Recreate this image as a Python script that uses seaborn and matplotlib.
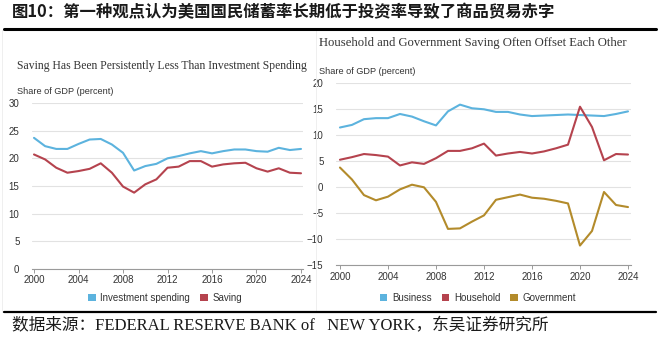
import numpy as np
import pandas as pd
import matplotlib
matplotlib.use("Agg")
import matplotlib.pyplot as plt
from matplotlib.patches import Patch
from matplotlib.lines import Line2D
import seaborn as sns

years = list(range(2000, 2025))

investment = [23.7, 22.2, 21.7, 21.7, 22.6, 23.4, 23.5, 22.5, 21.0, 17.8,
              18.6, 19.0, 20.0, 20.4, 20.9, 21.3, 20.9, 21.3, 21.6, 21.6,
              21.3, 21.2, 21.9, 21.5, 21.7]
saving = [20.7, 19.8, 18.3, 17.4, 17.7, 18.1, 19.1, 17.4, 14.9, 13.8,
          15.3, 16.2, 18.3, 18.5, 19.5, 19.5, 18.5, 18.9, 19.1, 19.2,
          18.2, 17.6, 18.2, 17.4, 17.3]

business = [11.5, 12.0, 13.1, 13.3, 13.3, 14.1, 13.6, 12.7, 11.9, 14.6,
            15.9, 15.2, 15.0, 14.5, 14.5, 14.0, 13.7, 13.8, 13.9, 14.0,
            13.9, 13.8, 13.7, 14.1, 14.6]
household = [5.3, 5.8, 6.4, 6.2, 5.9, 4.2, 4.8, 4.5, 5.6, 7.0,
             7.0, 7.5, 8.4, 6.1, 6.5, 6.8, 6.5, 6.9, 7.5, 8.2,
             15.5, 11.6, 5.2, 6.4, 6.3]
government = [3.8, 1.5, -1.5, -2.5, -1.8, -0.4, 0.5, 0.0, -2.8, -8.0,
              -7.9, -6.6, -5.4, -2.4, -1.9, -1.4, -2.0, -2.2, -2.6, -3.1,
              -11.2, -8.4, -0.9, -3.4, -3.8]

x_ticks = [2000, 2004, 2008, 2012, 2016, 2020, 2024]
left_yticks = [0, 5, 10, 15, 20, 25, 30]
right_yticks = [-15, -10, -5, 0, 5, 10, 15, 20]

left_names = ["Investment spending", "Saving"]
right_names = ["Business", "Household", "Government"]

BLUE = "#5cb3de"
RED = "#b5434e"
GOLD = "#b38b2b"

sns.set_theme(style="white")
plt.rcParams['font.family'] = ['Liberation Sans', 'DejaVu Sans']

W, H = 660, 337
fig = plt.figure(figsize=(W / 100, H / 100), dpi=100)


def ax_px(x0, y_top, x1, y_bot):
    return fig.add_axes([x0 / W, 1 - y_bot / H, (x1 - x0) / W, (y_bot - y_top) / H])


def style_axis(ax, yticks, ylim, xlim):
    ax.set_xlim(*xlim)
    ax.set_ylim(*ylim)
    ax.set_yticks(yticks)
    ax.set_xticks(x_ticks)
    ax.set_xticklabels([str(t) for t in x_ticks])
    ax.yaxis.grid(True, color="#e2e2e2", linewidth=0.8)
    ax.xaxis.grid(False)
    for s in ["top", "right", "left"]:
        ax.spines[s].set_visible(False)
    ax.spines["bottom"].set_color("#9a9a9a")
    ax.spines["bottom"].set_linewidth(0.8)
    ax.tick_params(axis="x", which="both", bottom=True, length=3, width=0.7,
                   color="#9a9a9a", labelsize=7, labelcolor="#333333", pad=1.5)
    ax.tick_params(axis="y", left=False, labelsize=7, labelcolor="#333333", pad=3)
    ax.set_xlabel("")
    ax.set_ylabel("")


# ---------- left panel ----------
df_left = pd.DataFrame({
    "year": years * 2,
    "value": investment + saving,
    "series": [left_names[0]] * len(years) + [left_names[1]] * len(years),
})
axL = ax_px(32, 103, 303, 269)
sns.lineplot(data=df_left, x="year", y="value", hue="series",
             palette=[BLUE, RED], linewidth=1.5, ax=axL, legend=False)
style_axis(axL, left_yticks, (0, 30), (1999.82, 2024.18))

handlesL = [Patch(facecolor=c, edgecolor="none") for c in [BLUE, RED]]
fig.legend(handlesL, left_names, loc="center", bbox_to_anchor=(165 / W, 1 - 298 / H),
           ncol=2, frameon=False, fontsize=7, handlelength=0.8, handleheight=0.8,
           handletextpad=0.5, columnspacing=1.0, labelcolor="#333333")

fig.text(17 / W, 1 - 66 / H, "Saving Has Been Persistently Less Than Investment Spending",
         family="Liberation Serif", fontsize=8.4, color="#333333", va="center", ha="left")
fig.text(17 / W, 1 - 92 / H, "Share of GDP (percent)", fontsize=6.6,
         color="#333333", va="center", ha="left")

# ---------- right panel ----------
df_right = pd.DataFrame({
    "year": years * 3,
    "value": business + household + government,
    "series": sum([[n] * len(years) for n in right_names], []),
})
axR = ax_px(336, 83.3, 631, 265.3)
sns.lineplot(data=df_right, x="year", y="value", hue="series",
             palette=[BLUE, RED, GOLD], linewidth=1.5, ax=axR, legend=False)
style_axis(axR, right_yticks, (-15, 20), (1999.67, 2024.25))

handlesR = [Patch(facecolor=c, edgecolor="none") for c in [BLUE, RED, GOLD]]
fig.legend(handlesR, right_names, loc="center", bbox_to_anchor=(478 / W, 1 - 298 / H),
           ncol=3, frameon=False, fontsize=7, handlelength=0.8, handleheight=0.8,
           handletextpad=0.5, columnspacing=1.0, labelcolor="#333333")

fig.text(319 / W, 1 - 43 / H, "Household and Government Saving Often Offset Each Other",
         family="Liberation Serif", fontsize=9.05, color="#333333", va="center", ha="left")
fig.text(319 / W, 1 - 71 / H, "Share of GDP (percent)", fontsize=6.6,
         color="#333333", va="center", ha="left")

# ---------- frame / header / footer ----------
fig.add_artist(plt.Rectangle((2 / W, 1 - 312 / H), 314 / W, 282 / H, transform=fig.transFigure,
                             fill=False, edgecolor="#efefef", linewidth=0.7))
fig.add_artist(Line2D([4 / W, 656 / W], [1 - 29 / H, 1 - 29 / H], color="black",
                      linewidth=2.2, transform=fig.transFigure))
fig.add_artist(Line2D([4 / W, 656 / W], [1 - 312 / H, 1 - 312 / H], color="black",
                      linewidth=1.6, transform=fig.transFigure))

fig.text(12 / W, 1 - 12 / H, "图10：第一种观点认为美国国民储蓄率长期低于投资率导致了商品贸易赤字",
         family=["Noto Sans CJK SC", "DejaVu Sans"], fontweight="bold",
         fontsize=11.8, color="#1a1a1a", va="center", ha="left")
fig.text(12 / W, 1 - 326 / H, "数据来源：FEDERAL RESERVE BANK of   NEW YORK，东吴证券研究所",
         family=["Liberation Serif", "Noto Sans CJK SC"], fontsize=12,
         color="#1a1a1a", va="center", ha="left")

fig.savefig("out.png", dpi=100, facecolor="white")
